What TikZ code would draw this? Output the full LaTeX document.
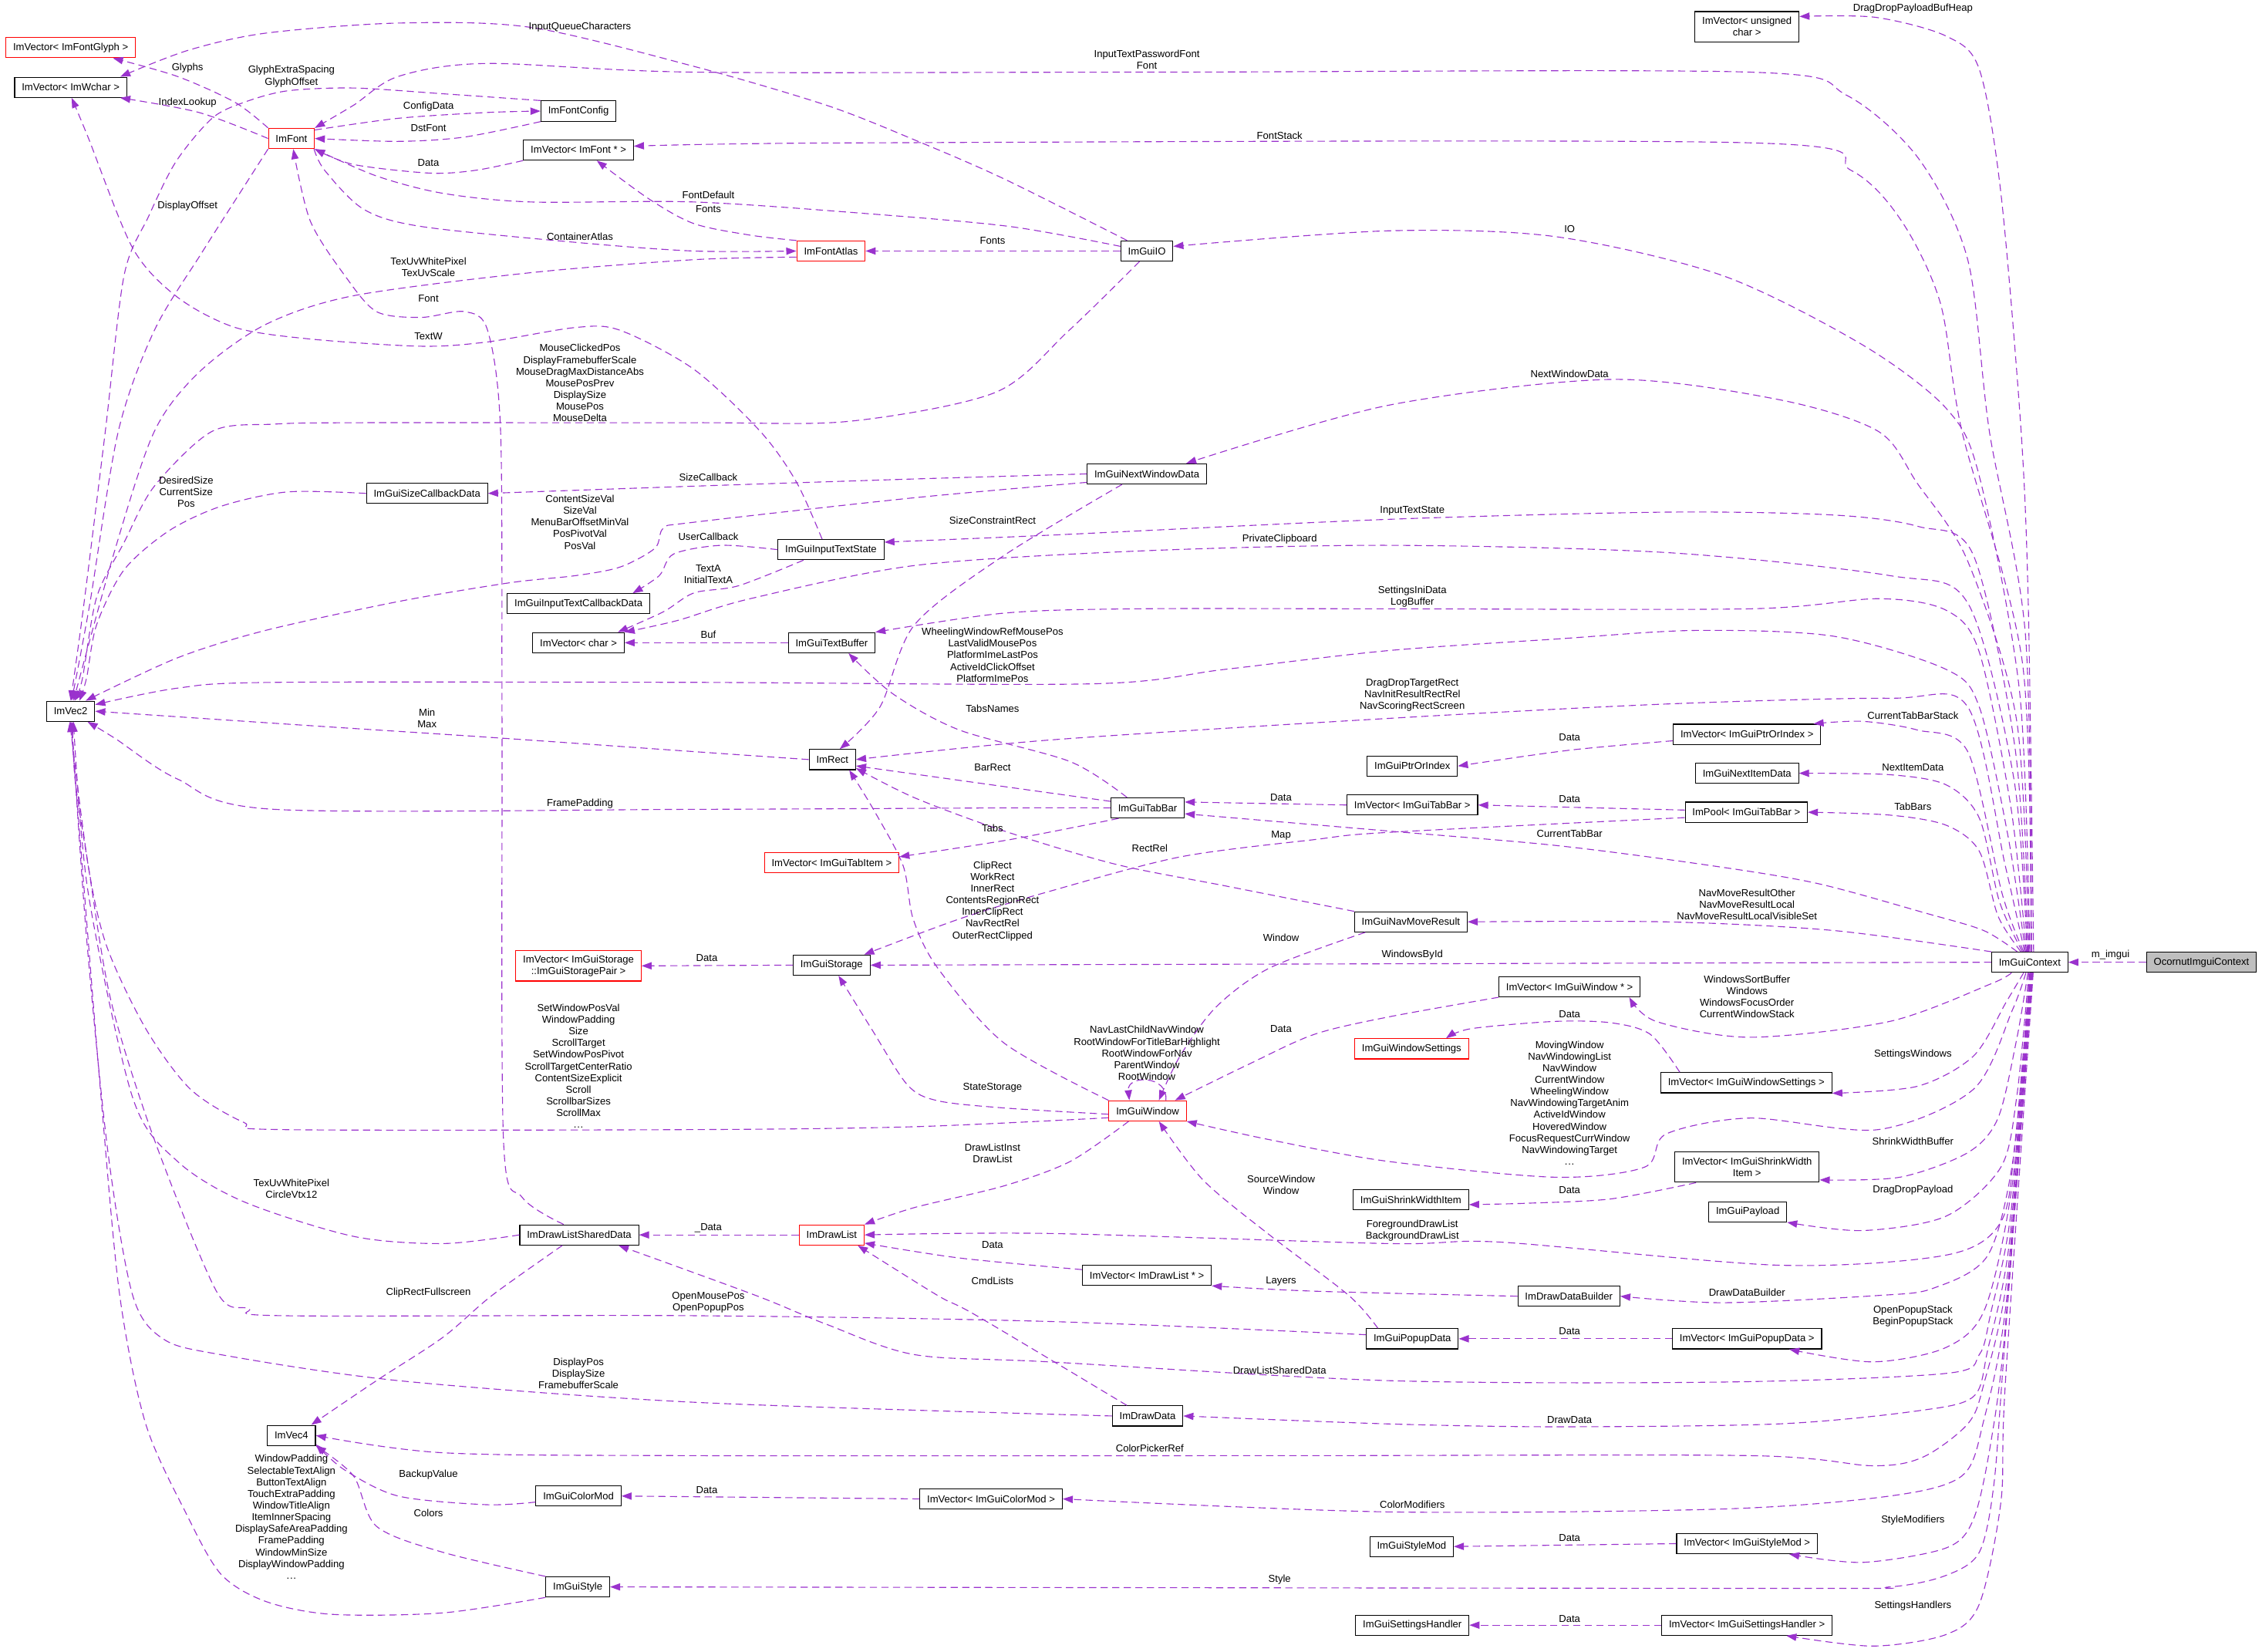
\documentclass[tikz,border=0pt]{standalone}
\usepackage{fontspec}
\setmainfont{Liberation Sans}
\usetikzlibrary{arrows.meta}
\definecolor{collclr}{HTML}{9A32CD}
\definecolor{rootgray}{HTML}{BFBFBF}
\newcommand{\moredots}{.\kern0.4pt.\kern0.4pt.}

\begin{document}
\begin{tikzpicture}[
  x=1pt, y=-1pt,
  font=\fontsize{7}{8.1}\selectfont,
  cls/.style={draw=black, line width=0.6pt, fill=white, minimum height=14pt, inner xsep=5pt, inner ysep=1pt, align=center},
  redcls/.style={cls, draw=red},
  rootcls/.style={cls, fill=rootgray},
  twoline/.style={minimum height=21pt},
  coll/.style={draw=collclr, line width=0.6pt, dash pattern=on 5pt off 3pt, -{Triangle[length=7pt,width=5pt]}},
  lbl/.style={inner sep=0pt, align=center}
]
\path[fill=white, use as bounding box] (0,0) rectangle (1568,1145);

\node[redcls] (glyphvec) at (49,33) {ImVector< ImFontGlyph >};
\node[cls] (wcharvec) at (49,60.5) {ImVector< ImWchar >};
\node[redcls] (font) at (202,96) {ImFont};
\node[cls] (fontcfg) at (401,77) {ImFontConfig};
\node[cls] (fontvec) at (401,104) {ImVector< ImFont * >};
\node[redcls] (atlas) at (576,174) {ImFontAtlas};
\node[cls] (io) at (795,174) {ImGuiIO};
\node[cls, twoline] (ucharvec) at (1211,18.5) {ImVector< unsigned\\char >};
\node[cls] (nextwin) at (795,328.5) {ImGuiNextWindowData};
\node[cls] (sizecb) at (296,342) {ImGuiSizeCallbackData};
\node[cls] (itstate) at (576,381) {ImGuiInputTextState};
\node[cls] (itcb) at (401,418.5) {ImGuiInputTextCallbackData};
\node[cls] (charvec) at (401,445.5) {ImVector< char >};
\node[cls] (textbuf) at (576.5,445.5) {ImGuiTextBuffer};
\node[cls] (vectwo) at (49,493) {ImVec2};
\node[cls] (rect) at (577,526.5) {ImRect};
\node[cls] (tabbar) at (795.5,560) {ImGuiTabBar};
\node[redcls] (tabitemvec) at (576.5,598) {ImVector< ImGuiTabItem >};
\node[cls] (ptridx) at (979,531) {ImGuiPtrOrIndex};
\node[cls] (ptridxvec) at (1211,509) {ImVector< ImGuiPtrOrIndex >};
\node[cls] (nextitem) at (1211,536) {ImGuiNextItemData};
\node[cls] (tabbarvec) at (979,558) {ImVector< ImGuiTabBar >};
\node[cls] (tabbarpool) at (1210.5,563) {ImPool< ImGuiTabBar >};
\node[cls] (navres) at (978,639) {ImGuiNavMoveResult};
\node[cls] (ctx) at (1407,667) {ImGuiContext};
\node[rootcls] (ocornut) at (1526,667) {OcornutImguiContext};
\node[redcls, twoline] (pairvec) at (401,669.5) {ImVector< ImGuiStorage\\::ImGuiStoragePair >};
\node[cls] (storage) at (576.5,669) {ImGuiStorage};
\node[cls] (winvec) at (1088,684) {ImVector< ImGuiWindow * >};
\node[redcls] (winset) at (978.5,727) {ImGuiWindowSettings};
\node[cls] (winsetvec) at (1210.5,750.5) {ImVector< ImGuiWindowSettings >};
\node[redcls] (window) at (795.5,770) {ImGuiWindow};
\node[cls, twoline] (shrinkvec) at (1211,809) {ImVector< ImGuiShrinkWidth\\Item >};
\node[cls] (shrinkitem) at (978,831.5) {ImGuiShrinkWidthItem};
\node[cls] (payload) at (1211.5,840) {ImGuiPayload};
\node[cls] (dlshared) at (401.5,856) {ImDrawListSharedData};
\node[redcls] (drawlist) at (576.5,856) {ImDrawList};
\node[cls] (dlvec) at (795,884) {ImVector< ImDrawList * >};
\node[cls] (ddbuilder) at (1087.5,898.5) {ImDrawDataBuilder};
\node[cls] (popup) at (979,928) {ImGuiPopupData};
\node[cls] (popupvec) at (1211,928) {ImVector< ImGuiPopupData >};
\node[cls] (drawdata) at (795.5,981.5) {ImDrawData};
\node[cls] (vecfour) at (202,995) {ImVec4};
\node[cls] (colormod) at (401,1037) {ImGuiColorMod};
\node[cls] (colormodvec) at (687,1039) {ImVector< ImGuiColorMod >};
\node[cls] (stylemod) at (978.5,1072) {ImGuiStyleMod};
\node[cls] (stylemodvec) at (1211,1070) {ImVector< ImGuiStyleMod >};
\node[cls] (style) at (400.5,1100) {ImGuiStyle};
\node[cls] (handler) at (979,1126.5) {ImGuiSettingsHandler};
\node[cls] (handlervec) at (1211,1126.5) {ImVector< ImGuiSettingsHandler >};

\draw[coll] plot[smooth] coordinates {(font.north west) (163,71) (123,53) (glyphvec.-14)};
\draw[coll] plot[smooth] coordinates {(font.west) (138,78) (wcharvec.-12)};
\draw[coll] plot[smooth] coordinates {(font.20) (276,82) (337,78) (fontcfg.west)};
\draw[coll] plot[smooth] coordinates {(fontcfg.south west) (322,95) (276,98) (font.east)};
\draw[coll] plot[smooth] coordinates {(fontvec.south west) (330,118) (298,120) (245,114) (font.south east)};
\draw[coll] plot[smooth] coordinates {(font.-25) (225,118) (252,145) (292,157) (399,168) (481,174) (atlas.west)};
\draw[coll] plot[smooth] coordinates {(atlas.north west) (520,163) (481,155) (450,138) (fontvec.-30)};
\draw[coll] plot[smooth] coordinates {(io.170) (700,157) (600,148) (481,140) (368,140) (307,134) (261,122) (font.south east)};
\draw[coll] (io.west) -- (atlas.east);
\draw[coll] plot[smooth] coordinates {(io.152) (696,124) (634,97) (573,73) (481,46) (368,19) (276,16) (184,23) (130,35) (wcharvec.12)};
\draw[coll] plot[smooth] coordinates {(io.-125) (740,230) (690,272) (589,292) (481,293) (250,293) (190,294) (147,299) (107,337) (86,376) (67,414) (57,471) (vectwo.70)};
\draw[coll] plot[smooth] coordinates {(fontcfg.north west) (307,65) (245,61) (199,63) (169,71) (147,82) (122,112) (103,150) (86,191) (73,299) (58,420) (vectwo.north)};
\draw[coll] plot[smooth] coordinates {(font.south west) (170,128) (140,175) (107,229) (82,299) (62,420) (vectwo.85)};
\draw[coll] plot[smooth] coordinates {(atlas.-170) (481,180) (368,189) (245,205) (184,225) (138,258) (107,299) (80,380) (vectwo.75)};
\draw[coll] plot[smooth] coordinates {(dlshared.146) (362,830) (349,790) (348,500) (347,299) (338,229) (322,216) (292,220) (261,216) (239,191) (215,153) (font.-80)};
\draw[coll] plot[smooth] coordinates {(itstate.130) (552,334) (527,299) (481,256) (430,229) (399,227) (338,237) (292,240) (215,235) (163,227) (123,206) (92,172) (61,95) (wcharvec.-85)};
\draw[coll] plot[smooth] coordinates {(sizecb.west) (199,341) (153,351) (117,368) (86,395) (67,433) (60,470) (vectwo.50)};
\draw[coll] plot[smooth] coordinates {(nextwin.west) (634,332) (481,337) (sizecb.east)};
\draw[coll] plot[smooth] coordinates {(nextwin.-172) (634,345) (481,362) (460,366) (454,380) (430,393) (399,399) (353,404) (276,417) (184,437) (123,456) (vectwo.35)};
\draw[coll] plot[smooth] coordinates {(nextwin.-157) (696,385) (634,433) (610,490) (rect.55)};
\draw[coll] plot[smooth] coordinates {(itstate.west) (500,378) (467,384) (457,399) (itcb.11)};
\draw[coll] plot[smooth] coordinates {(itstate.-159) (512,406) (481,411) (460,424) (charvec.15)};
\draw[coll] (textbuf.west) -- (charvec.east);
\draw[coll] plot[smooth] coordinates {(rect.west) (481,521) (338,511) (215,503) (vectwo.east)};
\draw[coll] plot[smooth] coordinates {(tabbar.west) (700,560) (481,561) (190,561) (123,540) (80,512) (vectwo.-32)};
\draw[coll] plot[smooth] coordinates {(tabbar.170) (680,543) (rect.-15)};
\draw[coll] plot[smooth] coordinates {(tabbar.153) (742,528) (665,506) (619,481) (textbuf.-32)};
\draw[coll] plot[smooth] coordinates {(tabbar.-160) (700,582) (tabitemvec.5)};
\draw[coll] (tabbarvec.west) -- (tabbar.9);
\draw[coll] (tabbarpool.178) -- (tabbarvec.east);
\draw[coll] plot[smooth] coordinates {(tabbarpool.-175) (962,577) (911,582) (818,594) (727,618) (665,637) (storage.18)};
\draw[coll] plot[smooth] coordinates {(ptridxvec.-175) (1088,520) (ptridx.east)};
\draw[coll] plot[smooth] coordinates {(navres.north west) (849,614) (773,599) (696,576) (634,553) (rect.-20)};
\draw[coll] plot[smooth] coordinates {(navres.-167) (880,671) (843,698) (818,732) (window.43)};
\draw[coll] plot[smooth] coordinates {(window.north west) (696,723) (650,671) (633,637) (626,600) (606,562) (rect.-32)};
\draw[coll] (window.30) .. controls (810,745) and (781,745) .. (window.150);
\draw[coll] plot[smooth] coordinates {(winvec.south west) (962,705) (911,717) (865,738) (window.21)};
\draw[coll] plot[smooth] coordinates {(window.-175) (696,768) (650,763) (629,752) (604,713) (storage.-57)};
\draw[coll] plot[smooth] coordinates {(window.-170) (634,781) (481,783) (196,783) (169,778) (132,755) (101,713) (74,656) (61,599) (vectwo.-95)};
\draw[coll] plot[smooth] coordinates {(window.-151) (742,805) (696,822) (634,837) (drawlist.north east)};
\draw[coll] plot[smooth] coordinates {(popup.163) (935,898) (880,856) (834,818) (window.-43)};
\draw[coll] (drawlist.west) -- (dlshared.east);
\draw[coll] plot[smooth] coordinates {(dlvec.175) (665,872) (drawlist.-14)};
\draw[coll] plot[smooth] coordinates {(drawdata.153) (677,912) (650,898) (drawlist.-22)};
\draw[coll] plot[smooth] coordinates {(ddbuilder.west) (911,895) (dlvec.south east)};
\draw[coll] (popupvec.west) -- (popup.east);
\draw[coll] plot[smooth] coordinates {(popup.175) (727,916) (481,912) (196,912) (172,907) (150,895) (107,790) (77,694) (61,599) (52,540) (vectwo.-80)};
\draw[coll] plot[smooth] coordinates {(drawdata.west) (481,972) (276,957) (153,939) (113,928) (92,898) (75,800) (60,650) (vectwo.-85)};
\draw[coll] plot[smooth] coordinates {(dlshared.west) (307,862) (245,857) (169,833) (123,805) (92,761) (61,618) (vectwo.-75)};
\draw[coll] plot[smooth] coordinates {(dlshared.-148) (341,898) (307,927) (261,957) (vecfour.28)};
\draw[coll] (colormodvec.west) -- (colormod.east);
\draw[coll] plot[smooth] coordinates {(colormod.-172) (337,1043) (276,1037) (239,1019) (vecfour.-20)};
\draw[coll] plot[smooth] coordinates {(style.north west) (307,1076) (261,1058) (245,1023) (vecfour.south east)};
\draw[coll] plot[smooth] coordinates {(style.south west) (307,1118) (230,1119) (184,1110) (153,1091) (129,1049) (101,987) (83,898) (70,760) (57,600) (vectwo.-90)};
\draw[coll] (storage.west) -- (pairvec.east);
\draw[coll] (stylemodvec.west) -- (stylemod.east);
\draw[coll] (handlervec.west) -- (handler.east);
\draw[coll] plot[smooth] coordinates {(winsetvec.171) (1144,717) (1117,709) (1078,708) (1020,713) (winset.17)};
\draw[coll] plot[smooth] coordinates {(shrinkvec.-163) (1117,831) (1060,834) (shrinkitem.-5)};
\draw[coll] (ocornut.west) -- (ctx.east);
\draw[coll] (ctx.west) -- (storage.east);

\draw[coll] plot[smooth] coordinates {(ctx.70) (1406,420) (1401,299) (1387,134) (1372,48) (1349,25) (1300,12) (ucharvec.11)};
\draw[coll] plot[smooth] coordinates {(ctx.80) (1404,440) (1379,299) (1364,180) (1330,110) (1280,66) (1213,50) (800,50) (481,50) (337,44) (276,53) (245,73) (font.north east)};
\draw[coll] plot[smooth] coordinates {(ctx.85) (1402,460) (1360,299) (1345,210) (1318,153) (1283,118) (1213,99) (600,99) (fontvec.4)};
\draw[coll] plot[smooth] coordinates {(ctx.90) (1400,480) (1372,330) (1349,283) (1291,239) (1194,191) (1078,164) (962,160) (io.10)};
\draw[coll] plot[smooth] coordinates {(ctx.95) (1398,500) (1364,389) (1329,335) (1302,299) (1233,277) (1117,263) (962,281) (nextwin.15)};
\draw[coll] plot[smooth] coordinates {(ctx.100) (1397,520) (1368,385) (1330,365) (1271,357) (1155,355) (962,360) (727,371) (itstate.8)};
\draw[coll] plot[smooth] coordinates {(ctx.104) (1396,540) (1364,418) (1310,399) (1155,383) (962,378) (788,382) (634,392) (520,415) (470,430) (charvec.north east)};
\draw[coll] plot[smooth] coordinates {(ctx.108) (1394,560) (1372,452) (1349,423) (1302,415) (1213,422) (962,422) (788,422) (696,425) (textbuf.north east)};
\draw[coll] plot[smooth] coordinates {(ctx.112) (1392,580) (1372,490) (1349,464) (1271,441) (1175,437) (1078,443) (962,451) (849,464) (757,474) (481,473) (190,473) (123,477) (vectwo.15)};
\draw[coll] plot[smooth] coordinates {(ctx.116) (1390,600) (1364,490) (1310,484) (1155,488) (962,498) (727,513) (rect.east)};
\draw[coll] plot[smooth] coordinates {(ctx.120) (1388,620) (1364,521) (1329,506) (1291,500) (ptridxvec.9)};
\draw[coll] plot[smooth] coordinates {(ctx.125) (1386,625) (1372,567) (1349,544) (1310,537) (nextitem.east)};
\draw[coll] plot[smooth] coordinates {(ctx.130) (1385,635) (1372,590) (1349,572) (1310,565) (tabbarpool.east)};
\draw[coll] plot[smooth] coordinates {(ctx.140) (1375,645) (1335,633) (1258,612) (1179,599) (1078,586) (962,576) (tabbar.-9)};
\draw[coll] plot[smooth] coordinates {(ctx.north west) (1271,645) (1155,639) (navres.east)};

\draw[coll] plot[smooth] coordinates {(ctx.-150) (1380,682) (1310,708) (1213,719) (1148,708) (winvec.-10)};
\draw[coll] plot[smooth] coordinates {(ctx.-120) (1391,694) (1368,732) (1329,753) (winsetvec.south east)};
\draw[coll] plot[smooth] coordinates {(ctx.-110) (1395,700) (1368,755) (1302,783) (1213,775) (1155,786) (1140,809) (1078,816) (962,805) (880,790) (window.south east)};
\draw[coll] plot[smooth] coordinates {(ctx.-100) (1398,720) (1385,775) (1364,799) (1317,816) (shrinkvec.-10)};
\draw[coll] plot[smooth] coordinates {(ctx.-95) (1398,760) (1387,809) (1349,843) (1291,853) (payload.south east)};
\draw[coll] plot[smooth] coordinates {(ctx.-90) (1397,790) (1387,847) (1349,870) (1233,877) (1040,861) (962,862) (727,855) (drawlist.east)};
\draw[coll] plot[smooth] coordinates {(ctx.-88) (1396,800) (1378,870) (1340,893) (1302,898) (1194,903) (ddbuilder.east)};
\draw[coll] plot[smooth] coordinates {(ctx.-86) (1395,820) (1376,907) (1349,934) (1298,944) (popupvec.-14)};
\draw[coll] plot[smooth] coordinates {(ctx.-84) (1394,840) (1380,910) (1372,939) (1349,952) (1194,958) (962,957) (727,944) (634,939) (573,918) (524,898) (dlshared.-15)};
\draw[coll] plot[smooth] coordinates {(ctx.-82) (1393,860) (1378,935) (1368,968) (1329,978) (1233,987) (1078,989) (962,987) (drawdata.east)};
\draw[coll] plot[smooth] coordinates {(ctx.-80) (1392,880) (1375,960) (1364,987) (1333,1010) (1298,1016) (1213,1009) (900,1009) (481,1009) (307,1007) (vecfour.east)};
\draw[coll] plot[smooth] coordinates {(ctx.-78) (1391,900) (1375,985) (1360,1023) (1310,1037) (1194,1046) (962,1048) (colormodvec.east)};
\draw[coll] plot[smooth] coordinates {(ctx.-76) (1390,920) (1380,1000) (1368,1053) (1349,1073) (1291,1083) (stylemodvec.-14)};
\draw[coll] plot[smooth] coordinates {(ctx.-74) (1389,940) (1382,1030) (1372,1076) (1349,1092) (1310,1100) (1233,1101) (style.east)};
\draw[coll] plot[smooth] coordinates {(ctx.-72) (1390,960) (1387,1041) (1372,1112) (1349,1133) (1298,1141) (handlervec.-15)};

\foreach \x/\y/\t [count=\i] in {
  1326/6/DragDropPayloadBufHeap,
  402/19/InputQueueCharacters,
  795/41.5/InputTextPasswordFont\\Font,
  130/47/Glyphs,
  202/53/GlyphExtraSpacing\\GlyphOffset,
  130/71/IndexLookup,
  297/74/ConfigData,
  297/89/DstFont,
  887/94/FontStack,
  297/113/Data,
  491/135/FontDefault,
  491/145/Fonts,
  130/143/DisplayOffset,
  1088/159/IO,
  402/164/ContainerAtlas,
  688/167/Fonts,
  297/185/TexUvWhitePixel\\TexUvScale,
  297/207/Font,
  297/233/TextW,
  402/265.5/MouseClickedPos\\DisplayFramebufferScale\\MouseDragMaxDistanceAbs\\MousePosPrev\\DisplaySize\\MousePos\\MouseDelta,
  1088/259/NextWindowData,
  491/331/SizeCallback,
  129/341/DesiredSize\\CurrentSize\\Pos,
  402/362/ContentSizeVal\\SizeVal\\MenuBarOffsetMinVal\\PosPivotVal\\PosVal,
  688/361/SizeConstraintRect,
  979/354/InputTextState,
  491/372/UserCallback,
  887/374/PrivateClipboard,
  491/398/TextA\\InitialTextA,
  979/413.5/SettingsIniData\\LogBuffer,
  491/440/Buf,
  688/454/WheelingWindowRefMousePos\\LastValidMousePos\\PlatformImeLastPos\\ActiveIdClickOffset\\PlatformImePos,
  979/482/DragDropTargetRect\\NavInitResultRectRel\\NavScoringRectScreen,
  688/491/TabsNames,
  1326/496/CurrentTabBarStack,
  296/498/Min\\Max,
  1088/511/Data,
  688/532/BarRect,
  1326/532/NextItemData,
  888/553/Data,
  1088/554/Data,
  402/557/FramePadding,
  1326/559/TabBars,
  688/574/Tabs,
  1088/578/CurrentTabBar,
  888/579/Map,
  797/588/RectRel,
  688/624.5/ClipRect\\WorkRect\\InnerRect\\ContentsRegionRect\\InnerClipRect\\NavRectRel\\OuterRectClipped,
  1211/627/NavMoveResultOther\\NavMoveResultLocal\\NavMoveResultLocalVisibleSet,
  888/650/Window,
  979/662/WindowsById,
  1463/662/m\_imgui,
  490/664/Data,
  1211/691/WindowsSortBuffer\\Windows\\WindowsFocusOrder\\CurrentWindowStack,
  401/739/SetWindowPosVal\\WindowPadding\\Size\\ScrollTarget\\SetWindowPosPivot\\ScrollTargetCenterRatio\\ContentSizeExplicit\\Scroll\\ScrollbarSizes\\ScrollMax\\\moredots,
  795/730/NavLastChildNavWindow\\RootWindowForTitleBarHighlight\\RootWindowForNav\\ParentWindow\\RootWindow,
  1088/703/Data,
  888/713/Data,
  1326/731/SettingsWindows,
  1088/764.5/MovingWindow\\NavWindowingList\\NavWindow\\CurrentWindow\\WheelingWindow\\NavWindowingTargetAnim\\ActiveIdWindow\\HoveredWindow\\FocusRequestCurrWindow\\NavWindowingTarget\\\moredots,
  688/754/StateStorage,
  1326/791/ShrinkWidthBuffer,
  688/799.5/DrawListInst\\DrawList,
  888/821.5/SourceWindow\\Window,
  202/824/TexUvWhitePixel\\CircleVtx12,
  1088/825/Data,
  1326/825/DragDropPayload,
  979/853/ForegroundDrawList\\BackgroundDrawList,
  491/851/\_Data,
  688/863/Data,
  688/888/CmdLists,
  888/888/Layers,
  297/896/ClipRectFullscreen,
  1211/896/DrawDataBuilder,
  491/903/OpenMousePos\\OpenPopupPos,
  1326/912.5/OpenPopupStack\\BeginPopupStack,
  1088/923/Data,
  887/950/DrawListSharedData,
  401/952/DisplayPos\\DisplaySize\\FramebufferScale,
  1088/984/DrawData,
  797/1004/ColorPickerRef,
  202/1051.5/WindowPadding\\SelectableTextAlign\\ButtonTextAlign\\TouchExtraPadding\\WindowTitleAlign\\ItemInnerSpacing\\DisplaySafeAreaPadding\\FramePadding\\WindowMinSize\\DisplayWindowPadding\\\moredots,
  297/1022/BackupValue,
  490/1033/Data,
  979/1043/ColorModifiers,
  297/1049/Colors,
  1326/1054/StyleModifiers,
  1088/1066/Data,
  887/1095/Style,
  1326/1113/SettingsHandlers,
  1088/1122/Data}
  \node[lbl] (lab\i) at (\x,\y) {\t};
\end{tikzpicture}
\end{document}
